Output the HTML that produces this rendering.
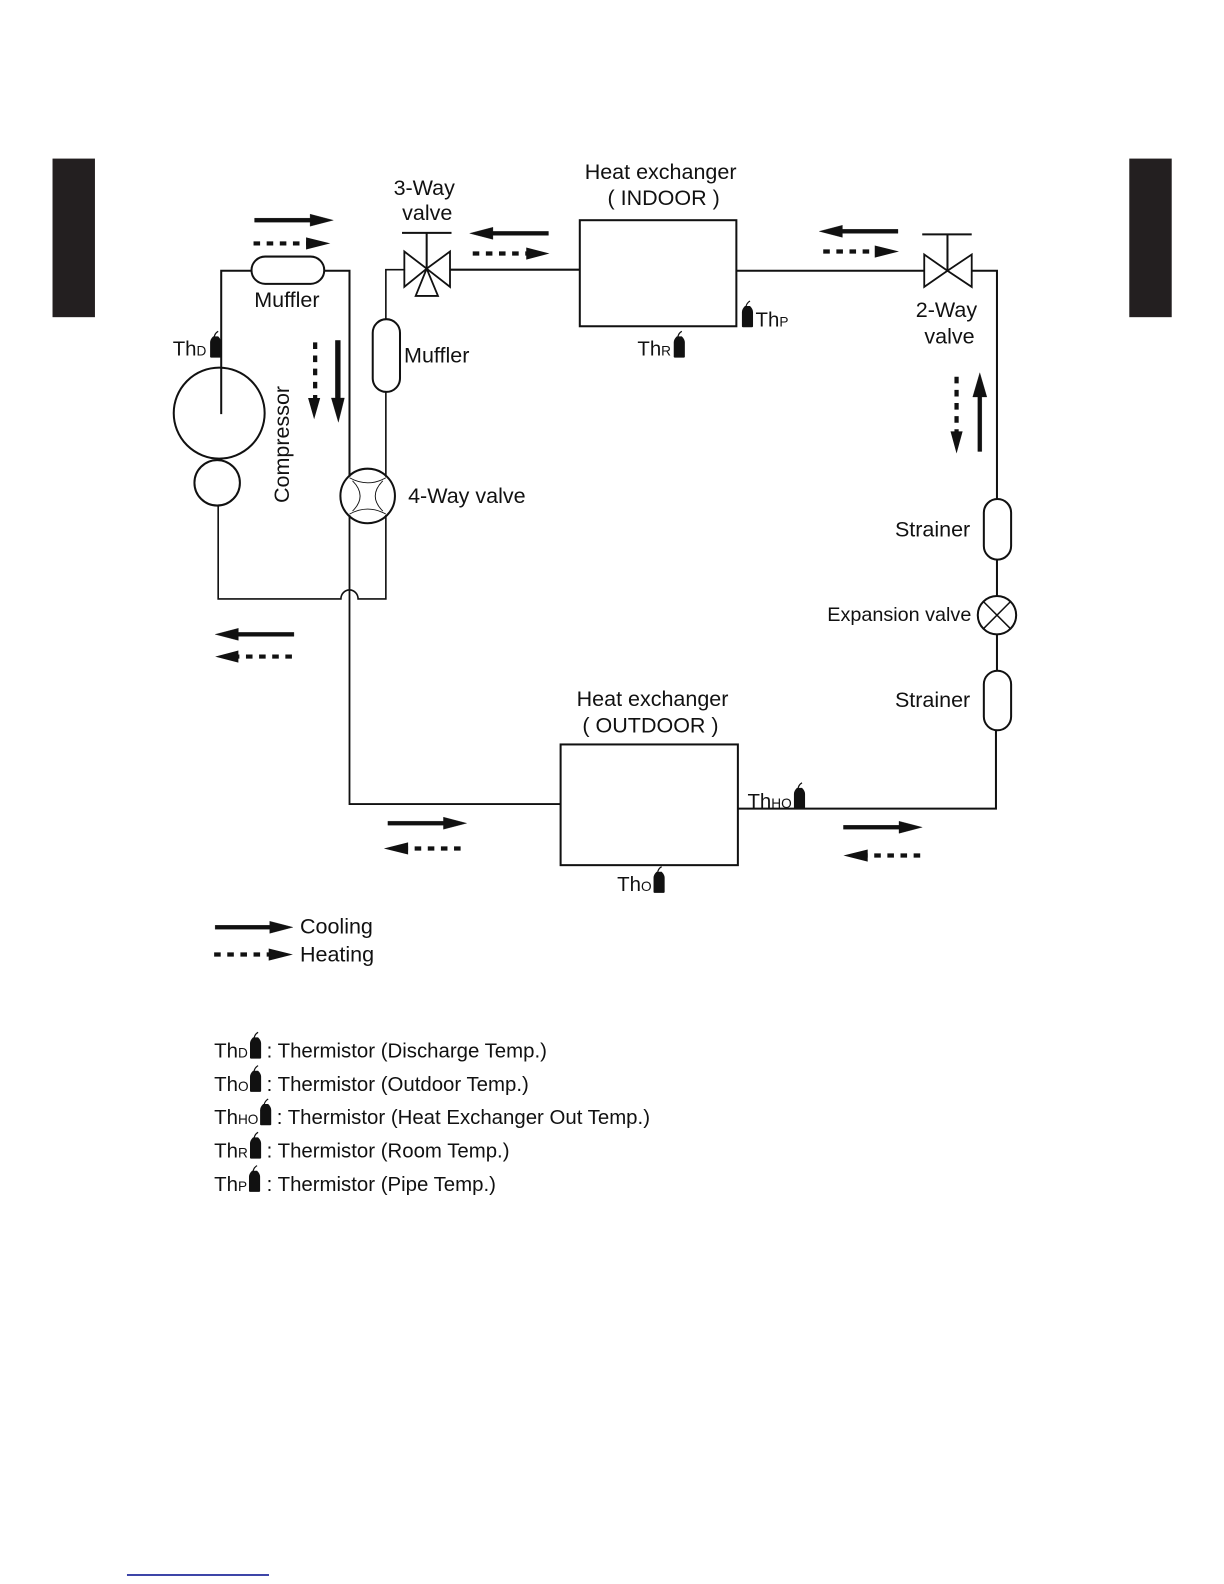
<!DOCTYPE html>
<html><head><meta charset="utf-8"><style>html,body{margin:0;padding:0;background:#fff}svg{display:block}text{font-family:"Liberation Sans",sans-serif;fill:#111;font-size:21.3px}</style></head><body>
<svg width="1224" height="1584" viewBox="0 0 1224 1584" xmlns="http://www.w3.org/2000/svg">
<defs>
<g id="th"><path d="M-5.500 6V-8Q-5.500-11-2.500-14H2.500Q5.500-11 5.500-8V6Q5.500 7 4 7H-4Q-5.500 7-5.500 6Z" fill="#111"/><path d="M-1.500-13Q-1-17 2.500-19" fill="none" stroke="#111" stroke-width="1.200"/></g>
</defs>
<g transform="scale(1.0101)">
<rect x="52" y="157" width="42" height="157" fill="#231f20"/>
<rect x="1118" y="157" width="42" height="157" fill="#231f20"/>
<rect x="125.700" y="1558.500" width="140.600" height="1.500" fill="#000a8c"/>

<g fill="none" stroke="#111" stroke-width="2">
<path d="M219 410V268H249M321 268H346V472"/>
<path d="M346 510V796H555" stroke-width="1.800"/>
<rect x="249" y="254" width="72" height="27" rx="13.500" fill="#fff"/>
<circle cx="217" cy="409" r="45"/>
<circle cx="215" cy="478" r="22.500"/>
<path d="M216 500.500V593H337.500A8.500 9 0 0 1 354.500 593H382V510" stroke-width="1.600"/>
<path d="M382 472V388M382 316V267H401" stroke-width="1.600"/>
<rect x="369" y="316" width="27" height="72" rx="13.500" fill="#fff"/>
<circle cx="364" cy="491" r="27"/>
<path d="M346 473Q364 483 382 473M346 509Q364 499 382 509M349 476Q364 491 349 506M379 476Q364 491 379 506" stroke-width="0.900"/>
<path d="M400.300 249L422.400 266L400.300 284ZM445.500 249L422.400 266L445.500 284ZM422.400 266L411.500 293H433.600Z" stroke-width="1.800"/>
<path d="M398 230.500H447M422.400 230.500V266"/>
<path d="M445.500 267H574"/>
<rect x="574" y="218" width="155" height="105"/>
<path d="M729 268H915"/>
<path d="M915 252L938 268L915 284ZM962 252L938 268L962 284Z" stroke-width="1.800"/>
<path d="M913 232H962M938 232V268"/>
<path d="M962 268H987V494"/>
<rect x="974" y="494" width="27" height="60" rx="13.500" fill="#fff"/>
<path d="M987 554V590M987 628V664"/>
<circle cx="987" cy="609" r="19"/>
<path d="M974 596L1000 622M1000 596L974 622" stroke-width="1.500"/>
<rect x="974" y="664" width="27" height="59" rx="13.500" fill="#fff"/>
<path d="M986 723V800.500H731"/>
<rect x="555" y="737" width="175.500" height="119.500"/>
</g>

<!-- solid arrows -->
<g fill="#111" stroke="#111" stroke-width="0.300">
<path d="M252 216H307V212L330 218L307 224V220H252Z"/>
<path d="M332 337H337V394H341L335 418L328 394H332Z"/>
<path d="M543 229V233H488V237L465 231L488 225V229Z"/>
<path d="M889 227V231H834V235L811 229L834 223V227Z"/>
<path d="M968 447H972V393H977L970 369L963 393H968Z"/>
<path d="M291 626V630H236V634L213 628L236 622V626Z"/>
<path d="M384 813H439V809L462 815L439 821V817H384Z"/>
<path d="M835 817H890V813L913 819L890 825V821H835Z"/>
<path d="M213 916H267V912L290 918L267 924V920H213Z"/>
</g>
<!-- dashed arrow heads -->
<g fill="#111">
<path d="M303 235L327 241L303 247Z"/>
<path d="M305 394H317L311 415Z"/>
<path d="M521 245L544 251L521 257Z"/>
<path d="M866 243L890 249L866 255Z"/>
<path d="M941 427H953L947 449Z"/>
<path d="M236 644L213 650L236 656Z"/>
<path d="M404 834L380 840L404 846Z"/>
<path d="M859 841L835 847L859 853Z"/>
<path d="M266 939L290 945L266 951Z"/>
</g>
<g fill="none" stroke="#111" stroke-width="4.200" stroke-dasharray="6.500 6.500">
<path d="M251 241H304"/>
<path d="M312 339V394"/>
<path d="M468 251H522"/>
<path d="M815 249H868"/>
<path d="M947 373V428"/>
<path d="M289 650H235"/>
<path d="M456 840H402"/>
<path d="M911 847H858"/>
<path d="M212 945H268"/>
</g>

<!-- labels -->
<text x="654" y="177" text-anchor="middle">Heat exchanger</text>
<text x="657" y="203" text-anchor="middle">( INDOOR )</text>
<text x="420" y="193" text-anchor="middle">3-Way</text>
<text x="423" y="218" text-anchor="middle">valve</text>
<text x="284" y="304" text-anchor="middle">Muffler</text>
<text x="400" y="359">Muffler</text>
<text x="404" y="498">4-Way valve</text>
<text x="937" y="314" text-anchor="middle">2-Way</text>
<text x="940" y="340" text-anchor="middle">valve</text>
<text x="886" y="531">Strainer</text>
<text x="819" y="615" style="font-size:19.600px">Expansion valve</text>
<text x="886" y="700">Strainer</text>
<text x="646" y="699" text-anchor="middle">Heat exchanger</text>
<text x="644" y="725" text-anchor="middle">( OUTDOOR )</text>
<text transform="translate(286,498) rotate(-90)">Compressor</text>
<text x="297" y="924">Cooling</text>
<text x="297" y="952">Heating</text>

<text x="171" y="352" style="font-size:20.200px">Th<tspan style="font-size:13.500px">D</tspan></text>
<use href="#th" x="213.500" y="347"/>
<use href="#th" x="740" y="317"/>
<text x="748" y="323" style="font-size:20.200px">Th<tspan style="font-size:13.500px">P</tspan></text>
<text x="631" y="352" style="font-size:20.200px">Th<tspan style="font-size:13.500px">R</tspan></text>
<use href="#th" x="672.500" y="347"/>
<text x="740" y="800" style="font-size:20.200px">Th<tspan style="font-size:13.500px">HO</tspan></text>
<use href="#th" x="791.500" y="794"/>
<text x="611" y="882" style="font-size:20.200px">Th<tspan style="font-size:13.500px">O</tspan></text>
<use href="#th" x="652.500" y="877"/>

<text x="212" y="1047" style="font-size:20.200px">Th<tspan style="font-size:13.500px">D</tspan></text>
<use href="#th" x="253" y="1041"/>
<text x="264" y="1047" style="font-size:20.200px">: Thermistor (Discharge Temp.)</text>
<text x="212" y="1080" style="font-size:20.200px">Th<tspan style="font-size:13.500px">O</tspan></text>
<use href="#th" x="253" y="1074"/>
<text x="264" y="1080" style="font-size:20.200px">: Thermistor (Outdoor Temp.)</text>
<text x="212" y="1113" style="font-size:20.200px">Th<tspan style="font-size:13.500px">HO</tspan></text>
<use href="#th" x="263" y="1107"/>
<text x="274" y="1113" style="font-size:20.200px">: Thermistor (Heat Exchanger Out Temp.)</text>
<text x="212" y="1146" style="font-size:20.200px">Th<tspan style="font-size:13.500px">R</tspan></text>
<use href="#th" x="253" y="1140"/>
<text x="264" y="1146" style="font-size:20.200px">: Thermistor (Room Temp.)</text>
<text x="212" y="1179" style="font-size:20.200px">Th<tspan style="font-size:13.500px">P</tspan></text>
<use href="#th" x="252" y="1173"/>
<text x="264" y="1179" style="font-size:20.200px">: Thermistor (Pipe Temp.)</text>
</g>
</svg>
</body></html>
